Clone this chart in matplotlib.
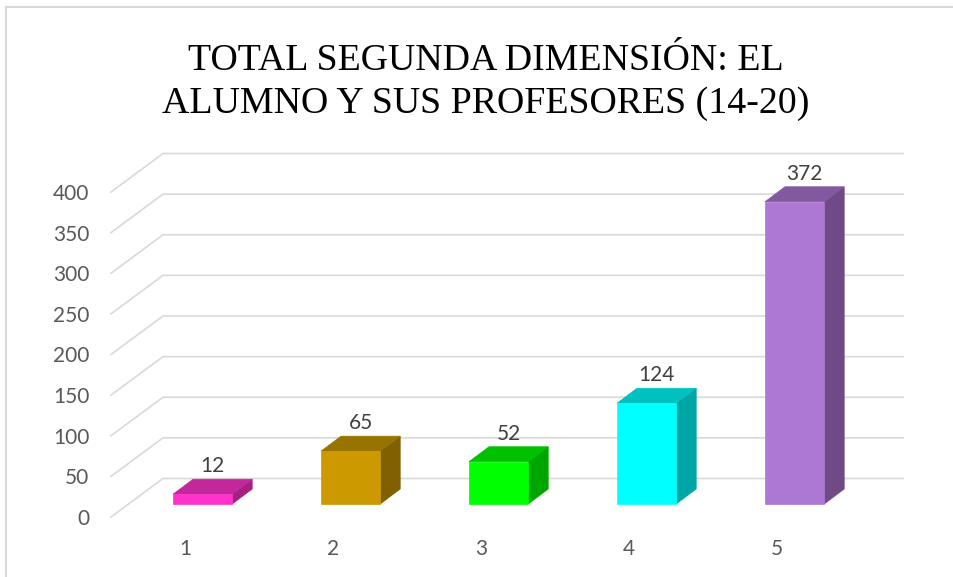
import matplotlib.pyplot as plt
from matplotlib.patches import Polygon
from matplotlib.lines import Line2D

# data
categories = ["1", "2", "3", "4", "5"]
values = [12, 65, 52, 124, 372]
front_colors = ["#FF33CC", "#CC9900", "#00FF00", "#00FFFF", "#AD78D3"]
top_colors = ["#C2279B", "#997300", "#00C000", "#00C0C0", "#82589F"]
side_colors = ["#A3217F", "#806000", "#00A600", "#00A5A5", "#6F4A87"]
yticks = [0, 50, 100, 150, 200, 250, 300, 350, 400]
title_lines = ["TOTAL SEGUNDA DIMENSIÓN: EL", "ALUMNO Y SUS PROFESORES (14-20)"]

W, H = 954, 577
fig = plt.figure(figsize=(W / 100, H / 100), dpi=100)
fig.patch.set_facecolor("white")

# floor-front plane of the fake 3D box
ax = fig.add_axes([111 / W, (H - 517) / H, 740 / W, 325 / H])
ax.set_xlim(0.5, 5.5)
ax.set_ylim(0, 400)
ax.set_facecolor("none")
for s in ax.spines.values():
    s.set_visible(False)

# pixel -> data conversion for the oblique depth offsets
o = ax.transData.transform((0, 0))
px_x = ax.transData.transform((1, 0))[0] - o[0]
px_y = ax.transData.transform((0, 1))[1] - o[1]


def depth(dx, dy):
    return dx / px_x, dy / px_y


wall_dx, wall_dy = depth(52, 38.5)
bf_dx, bf_dy = depth(17.6, 13)
bb_dx, bb_dy = depth(37.6, 28)
bar_w = 0.4

grid_c = "#D9D9D9"
for v in yticks:
    ax.add_line(Line2D([0.5, 0.5 + wall_dx, 5.5 + wall_dx],
                       [v, v + wall_dy, v + wall_dy],
                       color=grid_c, lw=1.2, clip_on=False, zorder=1))

for i, (v, fc, tc, sc) in enumerate(zip(values, front_colors, top_colors, side_colors)):
    x = i + 1
    x0 = x - bar_w / 2 + bf_dx
    x1 = x + bar_w / 2 + bf_dx
    y0 = bf_dy
    y1 = v + bf_dy
    ddx, ddy = bb_dx - bf_dx, bb_dy - bf_dy
    front = [(x0, y0), (x1, y0), (x1, y1), (x0, y1)]
    side = [(x1, y0), (x1 + ddx, y0 + ddy), (x1 + ddx, y1 + ddy), (x1, y1)]
    top = [(x0, y1), (x1, y1), (x1 + ddx, y1 + ddy), (x0 + ddx, y1 + ddy)]
    ax.add_patch(Polygon(side, closed=True, facecolor=sc, edgecolor=sc, lw=0.5, clip_on=False, zorder=3))
    ax.add_patch(Polygon(top, closed=True, facecolor=tc, edgecolor=tc, lw=0.5, clip_on=False, zorder=3))
    ax.add_patch(Polygon(front, closed=True, facecolor=fc, edgecolor=fc, lw=0.5, clip_on=False, zorder=4))
    _, lift = depth(0, 7)
    ax.text(x + ddx / 2 + bf_dx, y1 + ddy + lift, str(v), ha="center", va="baseline",
            fontsize=15, family="Lato", color="#404040", zorder=5)

ax.set_yticks(yticks)
ax.set_yticklabels([str(t) for t in yticks])
ax.set_xticks(range(1, 6))
ax.set_xticklabels(categories)
ax.tick_params(axis="y", length=0, pad=15.5, labelsize=15, labelcolor="#595959")
ax.tick_params(axis="x", length=0, pad=16, labelsize=15, labelcolor="#595959")
for lab in ax.get_xticklabels() + ax.get_yticklabels():
    lab.set_family("Lato")

# title
fig.text(486 / W, 1 - 70 / H, title_lines[0], ha="center", va="baseline",
         fontsize=27.3, family="Liberation Serif", color="black")
fig.text(486 / W, 1 - 113 / H, title_lines[1], ha="center", va="baseline",
         fontsize=27.3, family="Liberation Serif", color="black")

# chart border (left and top edges visible)
fig.add_artist(Line2D([6 / W, 6 / W], [0, 1 - 7 / H], color="#D9D9D9", lw=1.5))
fig.add_artist(Line2D([6 / W, 1], [1 - 7 / H, 1 - 7 / H], color="#D9D9D9", lw=1.5))

fig.savefig("out.png", dpi=100)
